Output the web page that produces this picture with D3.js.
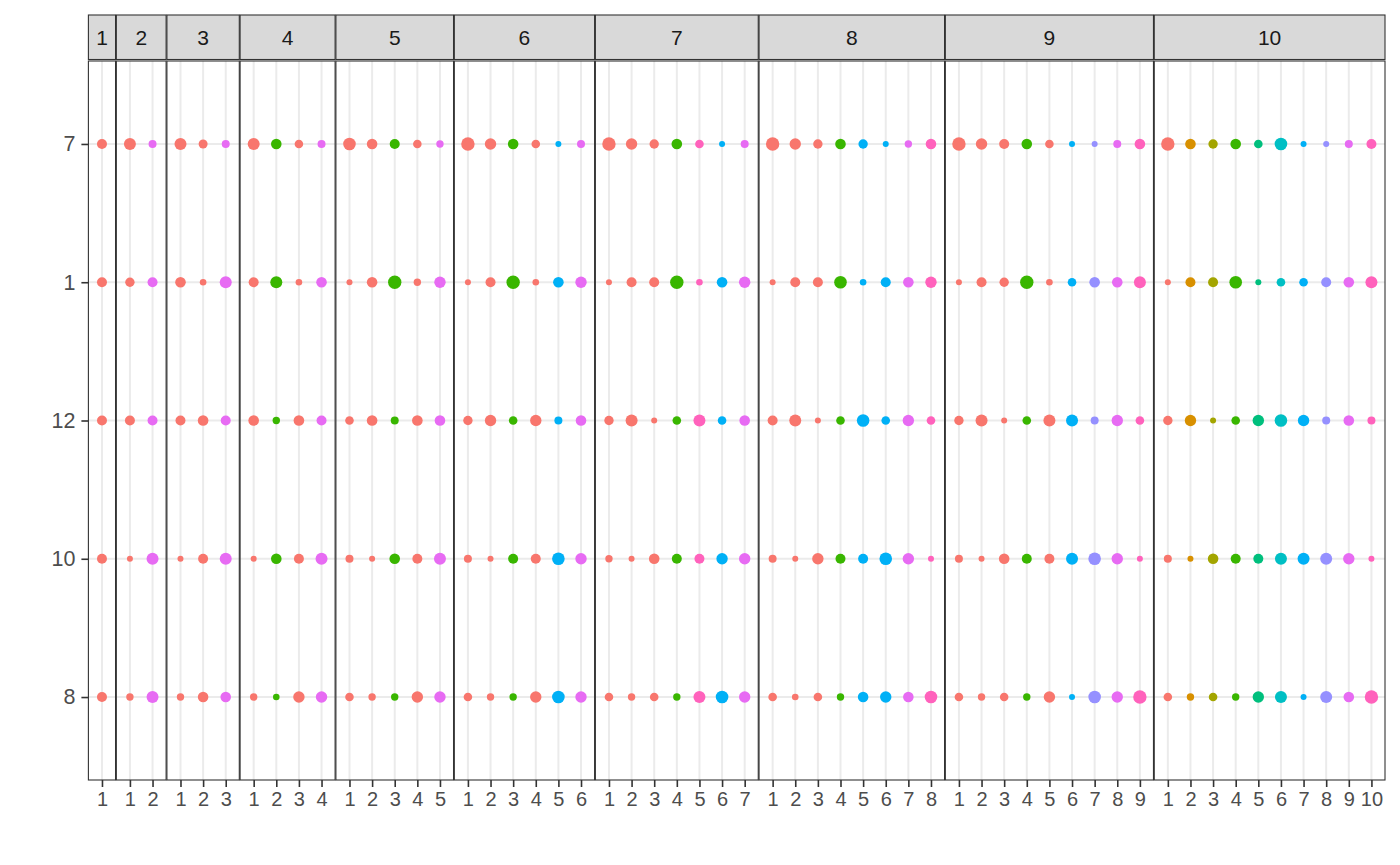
<!DOCTYPE html>
<html>
<head>
<meta charset="utf-8">
<script src="https://cdn.jsdelivr.net/npm/d3@7"></script>
<style>
  html, body { margin: 0; padding: 0; background: #ffffff; }
  svg { display: block; font-family: "Liberation Sans", Arial, Helvetica, sans-serif; }
</style>
</head>
<body>
<svg id="chart" width="1400" height="865"></svg>
<script>
// ---------------- data ----------------
const facetLabels = ["1", "2", "3", "4", "5", "6", "7", "8", "9", "10"];
const rowLabels = ["7", "1", "12", "10", "8"];

// palette index (1..10, ggplot hue palette) for each cluster within each facet
const clusterColour = [
  [1],
  [1, 9],
  [1, 1, 9],
  [1, 4, 1, 9],
  [1, 1, 4, 1, 9],
  [1, 1, 4, 1, 7, 9],
  [1, 1, 1, 4, 10, 7, 9],
  [1, 1, 1, 4, 7, 7, 9, 10],
  [1, 1, 1, 4, 1, 7, 8, 9, 10],
  [1, 2, 3, 4, 5, 6, 7, 8, 9, 10]
];

// point size value per facet / cluster for each row
const row7 = [
  [5], [6, 4], [6, 4.5, 4], [6, 5.3, 4.3, 4], [6.3, 5.3, 5, 4.3, 3.7],
  [6.7, 5.7, 5.3, 4.3, 3, 4], [6.7, 5.7, 4.7, 5.3, 4.3, 3, 4],
  [6.7, 5.7, 4.7, 5.3, 4.7, 3, 3.7, 5.3], [6.7, 5.7, 5, 5.3, 4.3, 3, 3, 4, 5.3],
  [6.7, 5.3, 4.7, 5.3, 4.3, 6.3, 3, 3, 4, 5]
];
const row1 = [
  [5], [4.7, 5], [5.3, 3.3, 6], [5, 6, 3.3, 5.3], [3, 5.3, 6.7, 3.7, 5.7],
  [3, 5, 6.7, 3.3, 5.3, 5.7], [3, 5, 5, 6.7, 3.3, 5.3, 5.7],
  [3, 5, 5, 6.3, 3.3, 5, 5.3, 5.7], [3, 5, 4.7, 6.7, 3.3, 4.3, 5.3, 5.3, 6],
  [3, 5, 5, 6.3, 3, 4.3, 4.3, 5, 5.3, 6]
];
const row12 = [
  [5], [5, 5], [5, 5.3, 5], [5.3, 3.7, 5.3, 5], [4.3, 5.3, 4, 5.3, 5.3],
  [4.7, 5.7, 4.3, 5.7, 4, 5.3], [4.7, 6, 3, 4.3, 6, 4.3, 5.3],
  [5, 6, 3, 4.3, 6.3, 4.3, 5.7, 4.3], [4.7, 6, 3, 4.3, 6, 6, 4, 5.7, 4.3],
  [4.7, 5.7, 3, 4.3, 5.7, 6.3, 5.7, 4, 5.3, 4]
];
const row10 = [
  [5], [3, 6], [3, 5, 6], [3, 5.3, 5, 6], [4, 3, 5.3, 5, 6],
  [4, 3, 5, 5, 6.3, 5.7], [3.7, 3, 5.3, 5, 5, 5.7, 5.7],
  [4, 3, 5.7, 5, 5, 6.3, 5.7, 3], [4, 3, 5.3, 5, 5, 6, 6.3, 5.7, 3],
  [4, 3, 5.3, 5, 5, 6, 6, 6, 5.7, 3]
];
const row8 = [
  [5], [3.7, 6], [3.7, 5.3, 5.3], [3.7, 3.3, 5.7, 5.7], [4.3, 3.7, 3.7, 5.7, 5.7],
  [4.3, 3.7, 3.7, 5.7, 6.3, 5.7], [4.3, 3.7, 4.3, 3.7, 6, 6.3, 5.7],
  [4.3, 3.3, 4.3, 3.7, 5.3, 5.7, 5.3, 6.3], [4.3, 3.7, 4.3, 3.7, 5.7, 3, 6.3, 5.7, 6.7],
  [4.3, 3.7, 4.3, 3.7, 5.7, 6, 3, 6, 5.3, 6.7]
];
const rowValues = [row7, row1, row12, row10, row8];

const hueColours = ["#F8766D", "#D89000", "#A3A500", "#39B600", "#00BF7D",
                    "#00BFC4", "#00B0F6", "#9590FF", "#E76BF3", "#FF62BC"];

// ---------------- layout ----------------
const svg = d3.select("#chart");
const plotLeft = 88.4, plotRight = 1385, gap = 0.8;
const stripTop = 15, stripBottom = 59.5, panelTop = 61, panelBottom = 780;

const units = facetLabels.map((f, i) => clusterColour[i].length + 0.2);
const unitW = (plotRight - plotLeft - gap * (facetLabels.length - 1)) / d3.sum(units);

const y = d3.scalePoint().domain(rowLabels).range([panelTop, panelBottom]).padding(0.6);
const colour = d3.scaleOrdinal().domain(d3.range(1, 11)).range(hueColours);
const radius = d3.scaleLinear().domain([0, 7]).range([0, 7]);

const axisTextCol = "#4D4D4D", darkCol = "#333333";

let cursor = plotLeft;
facetLabels.forEach((lab, fi) => {
  const k = clusterColour[fi].length;
  const w = units[fi] * unitW;
  const x0 = cursor, x1 = cursor + w;
  cursor = x1 + gap;

  const clusters = d3.range(1, k + 1).map(String);
  const x = d3.scalePoint().domain(clusters).range([x0, x1]).padding(0.6);

  const g = svg.append("g");

  g.append("rect").attr("x", x0).attr("y", panelTop).attr("width", w)
    .attr("height", panelBottom - panelTop).attr("fill", "#ffffff");

  g.selectAll(".vg").data(clusters).join("line")
    .attr("x1", d => x(d)).attr("x2", d => x(d))
    .attr("y1", panelTop).attr("y2", panelBottom)
    .attr("stroke", "#EBEBEB").attr("stroke-width", 2);
  g.selectAll(".hg").data(rowLabels).join("line")
    .attr("x1", x0).attr("x2", x1)
    .attr("y1", d => y(d)).attr("y2", d => y(d))
    .attr("stroke", "#EBEBEB").attr("stroke-width", 2);

  const pts = [];
  rowLabels.forEach((r, ri) => {
    rowValues[ri][fi].forEach((v, ci) => {
      pts.push({ row: r, cluster: String(ci + 1), value: v, col: clusterColour[fi][ci] });
    });
  });
  g.selectAll("circle").data(pts).join("circle")
    .attr("cx", d => x(d.cluster)).attr("cy", d => y(d.row))
    .attr("r", d => radius(d.value))
    .attr("fill", d => colour(d.col));

  g.append("rect").attr("x", x0).attr("y", panelTop).attr("width", w)
    .attr("height", panelBottom - panelTop).attr("fill", "none")
    .attr("stroke", darkCol).attr("stroke-width", 1.1);

  g.append("rect").attr("x", x0).attr("y", stripTop).attr("width", w)
    .attr("height", stripBottom - stripTop).attr("fill", "#D9D9D9")
    .attr("stroke", darkCol).attr("stroke-width", 1.1);
  g.append("text").attr("x", (x0 + x1) / 2).attr("y", (stripTop + stripBottom) / 2)
    .attr("text-anchor", "middle").attr("dominant-baseline", "central")
    .attr("font-size", 21).attr("fill", "#1A1A1A").text(lab);

  const xAxis = d3.axisBottom(x).tickSize(7).tickPadding(5);
  const ax = g.append("g").attr("transform", `translate(0,${panelBottom})`).call(xAxis);
  ax.select(".domain").remove();
  ax.selectAll(".tick line").attr("stroke", darkCol).attr("stroke-width", 1.6);
  ax.selectAll(".tick text").attr("font-size", 20).attr("fill", axisTextCol)
    .attr("font-family", "Liberation Sans, Arial, sans-serif");
});

const yAxis = d3.axisLeft(y).tickSize(7).tickPadding(6);
const ay = svg.append("g").attr("transform", `translate(${plotLeft},0)`).call(yAxis);
ay.select(".domain").remove();
ay.selectAll(".tick line").attr("stroke", darkCol).attr("stroke-width", 1.6);
ay.selectAll(".tick text").attr("font-size", 21.5).attr("fill", axisTextCol)
  .attr("font-family", "Liberation Sans, Arial, sans-serif");
</script>
</body>
</html>
